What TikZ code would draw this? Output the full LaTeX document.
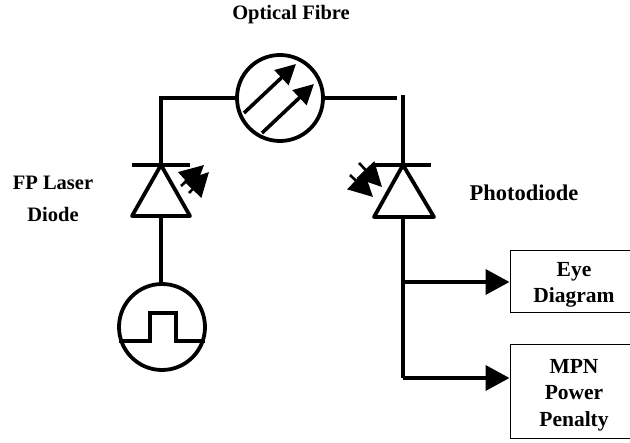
\documentclass[tikz,border=0pt]{standalone}
\usepackage{fontspec}
\setmainfont{Liberation Serif}
\usetikzlibrary{arrows.meta}
\newcommand{\topgap}{\rule{0pt}{20pt}}
\tikzset{
    wire/.style={line width=3.8pt},
    signal/.style={wire, -{Triangle[length=24pt,width=25pt]}},
    ray/.style={line width=3.6pt, -{Triangle[length=20pt,width=20pt]}},
    glow/.style={line width=2.6pt, -{Triangle[length=24pt,width=24pt]}},
    symbol/.style={draw, circle, line width=3.8pt, inner sep=0pt, minimum size=86pt},
    output/.style={draw, line width=1pt, inner sep=0pt, minimum width=128pt, align=center, font=\fontsize{21.5}{26.5}\selectfont\bfseries},
    caption/.style={align=center, font=\fontsize{20.5}{32.5}\selectfont\bfseries}
}
\begin{document}
\begin{tikzpicture}[x=1pt,y=-1pt]
    \useasboundingbox (0,0) rectangle (630,443);
    % symbols
    \node[symbol] (fibre) at (280,98) {};
    \node[symbol] (source) at (162,327) {};
    \node[output, minimum height=62pt] (eye) at (574,282) {\topgap Eye\\Diagram};
    \node[output, minimum height=94pt] (mpn) at (574,392) {\topgap MPN\\Power\\Penalty};
    % labels
    \node[caption] (fibrelabel) at (291,15) {Optical Fibre};
    \node[caption] (laserlabel) at (53,199) {FP Laser\\Diode};
    \node[caption, font=\fontsize{22.5}{32}\selectfont\bfseries] (pdlabel) at (524,193) {Photodiode};
    % laser diode
    \coordinate (lasertop) at (161,165);
    \coordinate (laserbase) at (161,216);
    \coordinate (laserleft) at (132,216);
    \coordinate (laserright) at (190,216);
    \coordinate (barleft) at (132,165);
    \coordinate (barright) at (190,165);
    \draw[wire, line join=round] (lasertop) -- (laserleft) -- (laserright) -- cycle;
    \draw[wire] (barleft) -- (barright);
    \draw[wire] (fibre.west) -| (lasertop);
    \draw[wire] (laserbase) -- (source.north -| laserbase);
    \coordinate (rayatail) at (181,186);
    \coordinate (rayahead) at (204,165);
    \coordinate (raybtail) at (189,193);
    \coordinate (raybhead) at (209,172);
    \draw[glow] (rayatail) -- (rayahead);
    \draw[glow] (raybtail) -- (raybhead);
    % photodiode
    \coordinate (pdtop) at (403,165);
    \coordinate (pdbase) at (403,217);
    \coordinate (pdleft) at (374,217);
    \coordinate (pdright) at (434,217);
    \coordinate (pdbarleft) at (375,165);
    \coordinate (pdbarright) at (431,165);
    \coordinate (wireend) at (397,98);
    \coordinate (wiretop) at (403,95);
    \draw[wire, line join=round] (pdtop) -- (pdleft) -- (pdright) -- cycle;
    \draw[wire] (pdbarleft) -- (pdbarright);
    \draw[wire] (fibre.east) -- (wireend);
    \draw[wire] (wiretop) -- (pdtop);
    \coordinate (pdrayatail) at (359,163);
    \coordinate (pdrayahead) at (382,187);
    \coordinate (pdraybtail) at (350,175);
    \coordinate (pdraybhead) at (373,197);
    \draw[glow] (pdrayatail) -- (pdrayahead);
    \draw[glow] (pdraybtail) -- (pdraybhead);
    % fibre arrows
    \coordinate (fibreatail) at (244,113);
    \coordinate (fibreahead) at (296,64);
    \coordinate (fibrebtail) at (262,133);
    \coordinate (fibrebhead) at (314,84);
    \draw[ray] (fibreatail) -- (fibreahead);
    \draw[ray] (fibrebtail) -- (fibrebhead);
    % pulse
    \coordinate (pulseb) at (150,313);
    \coordinate (pulsec) at (176,313);
    \draw[wire] (source.198) -| (pulseb) -- (pulsec) |- (source.-18);
    % outputs
    \coordinate (split) at (403,378);
    \draw[wire] (pdbase) -- (split);
    \draw[signal] (pdbase |- eye) -- (eye.west);
    \draw[signal] (split) -- (split -| mpn.west);
\end{tikzpicture}
\end{document}
